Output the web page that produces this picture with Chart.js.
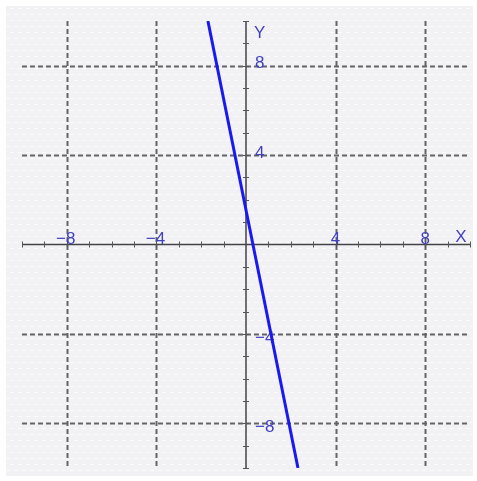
<!DOCTYPE html>
<html>
<head>
<meta charset="utf-8">
<script src="https://cdn.jsdelivr.net/npm/chart.js@4"></script>
<style>
  html, body { margin: 0; padding: 0; background: #ffffff; }
  canvas { display: block; }
</style>
</head>
<body>
<canvas id="graph" width="477" height="481"></canvas>
<script>
// axis range
const xRange = [-10, 10];
const yRange = [-10, 10];

// dashed grid lines and their labels
const xGridValues = [-8, -4, 4, 8];
const xTickLabels = ['\u22128', '\u22124', '4', '8'];
const yGridValues = [8, 4, -4, -8];
const yTickLabels = ['8', '4', '\u22124', '\u22128'];

// small tick marks on the axes
const minorTicks = [-10, -9, -8, -7, -6, -5, -4, -3, -2, -1, 1, 2, 3, 4, 5, 6, 7, 8, 9, 10];

// the plotted line (end points)
const lineX = [-1.7, 2.32];
const lineY = [10, -10];

const gridPlugin = {
    id: 'gridPlugin',
    beforeDraw(chart) {
        const ctx = chart.ctx;
        ctx.save();
        ctx.fillStyle = '#f2f2f5';
        ctx.fillRect(6, 6, 467, 470);
        // faint texture
        ctx.fillStyle = '#fbfbfd';
        for (let y = 8; y < 476; y += 6) {
            for (let x = 6 + (y % 12 === 2 ? 0 : 4); x < 473; x += 8) {
                ctx.fillRect(x, y, 4, 1);
            }
        }
        ctx.restore();
    },
    beforeDatasetsDraw(chart) {
        const ctx = chart.ctx;
        const xs = chart.scales.x;
        const ys = chart.scales.y;
        const area = chart.chartArea;
        const x0 = xs.getPixelForValue(0);
        const y0 = ys.getPixelForValue(0);

        ctx.save();
        // dashed grid
        ctx.strokeStyle = '#646468';
        ctx.lineWidth = 2;
        ctx.setLineDash([5, 3]);
        xGridValues.forEach(v => {
            const px = Math.round(xs.getPixelForValue(v)) + 0.5;
            ctx.beginPath();
            ctx.moveTo(px, area.top);
            ctx.lineTo(px, area.bottom);
            ctx.stroke();
        });
        yGridValues.forEach(v => {
            const py = Math.round(ys.getPixelForValue(v)) + 0.5;
            ctx.beginPath();
            ctx.moveTo(area.left, py);
            ctx.lineTo(area.right, py);
            ctx.stroke();
        });
        ctx.setLineDash([]);

        // axes
        ctx.strokeStyle = '#444448';
        ctx.lineWidth = 1.5;
        ctx.beginPath();
        ctx.moveTo(area.left, y0);
        ctx.lineTo(area.right, y0);
        ctx.moveTo(x0, area.top);
        ctx.lineTo(x0, area.bottom);
        ctx.stroke();

        // tick marks
        ctx.lineWidth = 1;
        ctx.strokeStyle = '#55555a';
        ctx.beginPath();
        minorTicks.forEach(v => {
            const px = Math.round(xs.getPixelForValue(v)) + 0.5;
            ctx.moveTo(px, y0 - 3);
            ctx.lineTo(px, y0 + 3);
            const py = Math.round(ys.getPixelForValue(v)) + 0.5;
            ctx.moveTo(x0 - 3, py);
            ctx.lineTo(x0 + 3, py);
        });
        ctx.stroke();

        // labels
        ctx.fillStyle = '#4242c0';
        ctx.font = '17px "Liberation Sans", Arial, sans-serif';
        ctx.textAlign = 'center';
        ctx.textBaseline = 'alphabetic';
        xGridValues.forEach((v, i) => {
            ctx.fillText(xTickLabels[i], xs.getPixelForValue(v) + (v < 0 ? -1 : 0), y0 - 1);
        });
        ctx.fillText('X', xs.getPixelForValue(9.6), y0 - 3);

        ctx.textAlign = 'left';
        ctx.textBaseline = 'middle';
        yGridValues.forEach((v, i) => {
            const off = v > 0 ? -2 : 4;
            ctx.fillText(yTickLabels[i], x0 + 9, ys.getPixelForValue(v) + off);
        });
        ctx.fillText('Y', x0 + 8, ys.getPixelForValue(9.45));
        ctx.restore();
    }
};

new Chart(document.getElementById('graph'), {
    type: 'scatter',
    data: {
        datasets: [{
            data: lineX.map((x, i) => ({ x: x, y: lineY[i] })),
            showLine: true,
            borderColor: '#1a1aee',
            borderWidth: 3,
            pointRadius: 0,
            fill: false
        }]
    },
    options: {
        responsive: false,
        animation: false,
        layout: { padding: { left: 22, right: 7, top: 21, bottom: 13 } },
        scales: {
            x: { type: 'linear', min: xRange[0], max: xRange[1], display: false },
            y: { type: 'linear', min: yRange[0], max: yRange[1], display: false }
        },
        plugins: {
            legend: { display: false },
            tooltip: { enabled: false }
        }
    },
    plugins: [gridPlugin]
});
</script>
</body>
</html>
